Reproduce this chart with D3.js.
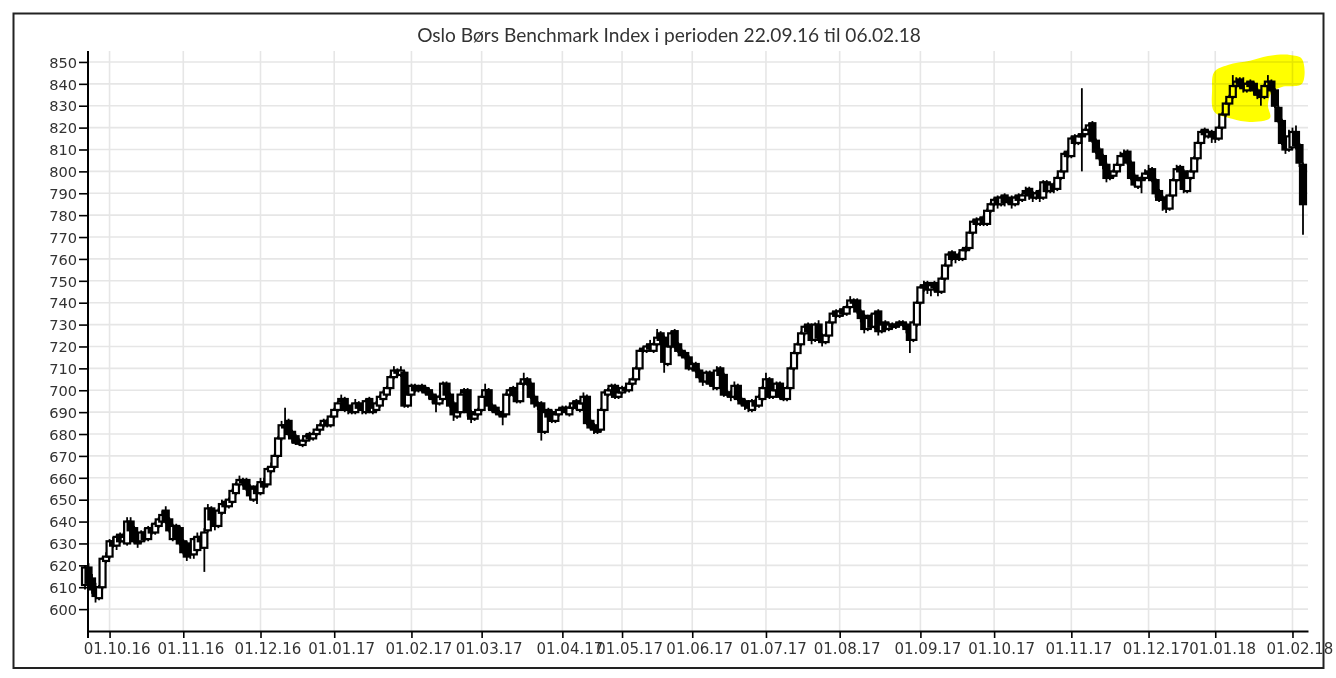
<!DOCTYPE html>
<html><head><meta charset="utf-8">
<script src="https://cdn.jsdelivr.net/npm/d3@7"></script>
<style>body{margin:0;background:#fff}svg{display:block}</style>
</head><body>
<svg id="chart" width="1336" height="678"></svg>
<script>
const titleText = "Oslo Børs Benchmark Index i perioden 22.09.16 til 06.02.18";
const startDate = "2016-09-22";
const endDate = "2018-02-06";
const holidays = ["2016-12-26","2017-04-13","2017-04-14","2017-04-17","2017-05-01","2017-05-17","2017-05-25","2017-06-05","2017-12-25","2017-12-26","2018-01-01"];
const yTicks = [600,610,620,630,640,650,660,670,680,690,700,710,720,730,740,750,760,770,780,790,800,810,820,830,840,850];
// highlighted region (hand-drawn marker): trading-day index and index value pairs
const highlightIdx = [321.7, 325.6, 331.9, 337.0, 343.3, 346.7, 346.7, 341.0, 338.2, 337.0, 337.6, 331.9, 326.8, 321.7, 321.1];
const highlightVal = [845.4, 848.6, 850.5, 852.7, 853.2, 851.4, 840.0, 838.6, 836.3, 830.3, 824.4, 822.6, 824.0, 827.2, 837.2];

const open = [
611,619,614,610,605,610,622,624,631,629, 634,631,630,640,637,633,631,635,632,637,
635,638,640,645,641,632,638,637,631,630, 628,625,627,633,628,636,646,641,638,644,
649,647,649,653,657,659,659,656,650,656, 653,658,657,663,665,670,678,683,686,681,
679,676,675,677,680,678,680,682,684,686, 684,688,691,696,696,691,693,690,694,693,
690,696,690,691,693,696,698,701,706,709, 707,708,693,698,702,700,702,701,700,698,
697,694,696,703,698,694,688,690,699,700, 690,687,689,691,697,700,693,692,690,690,
689,698,701,698,695,703,705,703,697,694, 694,681,691,690,686,689,691,692,689,692,
695,691,694,697,686,684,683,682,691,698, 700,702,697,699,701,700,703,705,710,718,
718,721,718,721,726,724,712,720,727,721, 718,717,715,710,712,709,706,704,708,703,
701,710,707,698,699,697,702,696,695,693, 691,695,693,696,701,705,697,700,703,697,
696,701,710,717,721,726,730,727,723,730, 725,722,725,731,736,734,737,735,738,741,
741,736,734,728,734,729,736,727,731,728, 730,729,730,731,730,729,723,730,740,747,
749,746,749,748,745,751,757,763,760,762, 760,764,765,772,778,776,779,776,782,785,
788,785,789,786,788,785,789,787,790,792, 790,788,791,788,795,791,794,792,797,800,
809,807,816,813,816,817,819,822,814,810, 807,803,797,798,800,803,807,809,804,798,
793,796,797,799,801,796,791,787,788,783, 789,796,802,800,791,797,800,806,813,819,
816,818,817,815,820,826,831,834,839,842, 840,837,841,840,837,835,834,839,841,837,
829,823,813,810,811,818,812,803];

const high = [
620,621,616,612,611,624,626,632,633,634, 635,635,642,642,638,634,636,637,638,639,
640,642,645,647,642,639,639,638,632,631, 629,633,635,635,637,648,647,642,646,650,
650,651,655,658,661,660,660,657,656,657, 660,660,665,667,671,679,686,692,687,682,
680,678,678,680,681,681,683,685,687,687, 689,692,695,698,697,693,694,696,695,694,
696,697,693,695,698,700,702,707,711,710, 711,709,699,703,703,702,703,702,701,699,
698,698,704,704,699,695,691,699,701,701, 691,690,692,698,703,701,694,693,691,691,
699,701,702,699,704,708,706,704,698,695, 695,691,692,691,690,692,693,693,693,695,
696,695,699,698,687,685,684,692,700,701, 703,703,700,702,702,704,706,711,719,720,
721,723,722,728,727,725,721,727,728,722, 719,718,716,713,713,710,707,709,709,704,
711,711,708,700,700,704,703,697,696,694, 696,696,698,702,708,706,701,704,704,698,
702,711,718,722,727,730,731,728,731,732, 726,726,732,736,737,737,738,739,743,742,
742,737,735,734,735,736,737,731,732,731, 731,731,732,732,731,730,732,741,748,750,
750,749,750,749,752,758,763,764,762,763, 765,766,773,778,779,779,780,783,786,788,
789,789,790,788,789,789,790,790,793,793, 791,791,792,796,796,795,795,798,801,809,
810,816,817,817,838,820,822,823,815,811, 808,804,799,801,804,809,810,810,805,799,
797,798,801,803,802,797,792,789,789,790, 797,803,803,801,798,801,807,814,819,820,
819,819,818,821,827,832,835,844,843,843, 843,841,842,841,838,836,840,844,842,838,
830,824,814,819,820,821,813,804];

const low = [
609,611,607,603,604,609,621,623,628,627, 630,630,629,635,630,628,630,631,631,634,
634,637,639,639,635,631,632,629,625,622, 623,623,626,629,617,635,640,636,637,643,
645,646,648,652,656,656,654,650,649,648, 652,655,656,662,664,669,677,681,679,676,
675,675,674,676,677,677,679,681,683,683, 683,687,690,694,690,689,689,689,691,689,
689,690,689,690,692,695,697,700,705,706, 706,692,692,697,699,699,699,698,696,694,
690,693,695,697,692,686,687,689,697,688, 685,686,688,690,696,691,690,689,688,684,
688,697,697,694,694,702,702,696,692,691, 677,680,687,685,685,688,690,689,688,691,
691,690,693,684,682,680,680,681,690,697, 699,696,696,698,699,699,702,704,709,717,
717,718,717,720,722,708,711,719,719,717, 715,714,709,709,708,705,702,703,702,700,
700,706,697,697,695,696,695,693,691,690, 690,691,692,695,700,696,696,699,696,695,
695,700,709,716,720,725,726,721,722,723, 720,721,724,730,733,733,734,734,737,738,
735,731,726,727,728,728,725,726,727,727, 728,728,729,729,726,717,722,729,739,745,
744,743,745,743,744,750,756,759,758,759, 759,763,764,771,775,775,775,775,781,784,
783,784,784,785,783,784,785,786,789,787, 786,787,786,787,790,790,790,791,796,799,
806,806,812,812,800,816,818,813,808,805, 801,795,796,797,799,802,806,803,796,793,
792,790,796,798,795,788,786,782,781,782, 788,795,799,790,790,796,799,805,812,815,
815,813,813,814,819,825,830,833,838,838, 836,836,837,835,833,830,833,838,836,829,
822,812,808,809,810,810,802,771];

const close = [
619,612,609,606,610,623,624,631,629,633, 631,633,640,636,631,630,635,632,637,635,
639,641,643,640,636,638,633,630,626,624, 625,632,633,631,635,646,641,638,645,648,
647,650,654,657,659,658,655,652,655,653, 658,656,664,665,670,678,684,684,680,678,
676,676,677,679,678,680,682,684,686,684, 688,691,694,695,691,692,690,694,692,691,
695,691,692,694,697,699,701,706,709,708, 709,693,698,702,700,701,701,699,698,696,
694,697,703,698,693,689,690,698,700,690, 687,689,691,697,700,693,691,690,689,688,
698,700,698,695,703,705,703,697,694,693, 681,690,688,686,689,691,692,690,692,694,
692,694,697,685,683,682,681,691,699,700, 702,697,699,701,700,703,705,710,718,719,
720,719,721,724,723,713,720,726,720,718, 716,715,710,712,709,706,704,708,703,702,
709,707,698,699,697,702,696,694,693,692, 695,693,697,701,705,697,700,703,697,696,
701,710,717,721,726,729,727,723,730,724, 722,725,731,735,734,736,735,738,741,740,
736,733,728,733,729,735,727,730,728,730, 729,730,731,730,728,723,731,740,747,748,
746,748,747,745,751,757,762,760,761,760, 764,765,772,777,776,778,776,782,785,787,
785,788,786,787,785,788,787,789,791,789, 788,790,788,795,791,794,792,797,800,808,
807,815,813,816,817,819,821,814,809,806, 803,797,798,800,803,807,808,804,797,794,
796,797,799,800,796,790,787,788,783,789, 796,801,800,792,797,800,806,813,818,817,
818,816,815,820,826,831,834,839,841,840, 838,840,839,837,835,834,839,841,837,830,
823,813,810,816,818,812,804,785];

// trading-day calendar (weekdays minus Oslo Børs holidays)
const parse = d3.utcParse("%Y-%m-%d");
const fmtISO = d3.utcFormat("%Y-%m-%d");
const hol = new Set(holidays);
const dates = d3.utcDays(parse(startDate), d3.utcDay.offset(parse(endDate), 1))
  .filter(d => d.getUTCDay() !== 0 && d.getUTCDay() !== 6 && !hol.has(fmtISO(d)));
const n = Math.min(dates.length, close.length);
const data = d3.range(n).map(i => ({i, date: dates[i], o: open[i], h: high[i], l: low[i], c: close[i]}));

const monthTicks = [];
data.forEach((d, i) => {
  if (i > 0 && d.date.getUTCMonth() !== data[i-1].date.getUTCMonth()) {
    monthTicks.push({i, label: d3.utcFormat("01.%m.%y")(d.date)});
  }
});

const svg = d3.select("#chart");
const x = d3.scaleLinear().domain([0, 347]).range([85, 1303]);
const y = d3.scaleLinear().domain([590, 855]).range([631, 51]);
const xLeft = 88, xRight = 1308;
const xAxisScale = x.copy().domain([x.invert(xLeft), x.invert(xRight)]).range([xLeft, xRight]);

// outer frame
svg.append("rect").attr("x", 13.5).attr("y", 13.5).attr("width", 1310).attr("height", 654.5)
  .attr("fill", "#fff").attr("stroke", "#222").attr("stroke-width", 2);

// title
const title = svg.append("text").attr("x", 669).attr("y", 42).attr("text-anchor", "middle")
  .attr("font-family", "Lato, 'Open Sans', sans-serif").attr("font-size", 16).attr("fill", "#333")
  .text(titleText);
const tl = title.node().getComputedTextLength();
title.attr("font-size", 16 * 504 / tl);

// grid
const grid = svg.append("g");
grid.selectAll("line.h").data(yTicks).join("line").attr("class", "h")
  .attr("x1", xLeft).attr("x2", xRight).attr("y1", d => y(d)).attr("y2", d => y(d))
  .attr("stroke", "#e6e6e6").attr("stroke-width", 1.6);
grid.selectAll("line.v").data(monthTicks).join("line").attr("class", "v")
  .attr("x1", d => x(d.i)).attr("x2", d => x(d.i)).attr("y1", 51).attr("y2", 631)
  .attr("stroke", "#e6e6e6").attr("stroke-width", 1.6);

// axes
const yAxis = d3.axisLeft(y).tickValues(yTicks).tickSize(9).tickSizeOuter(0).tickPadding(2).tickFormat(d3.format("d"));
const gy = svg.append("g").attr("transform", `translate(${xLeft},0)`).call(yAxis);
gy.select(".domain").attr("stroke", "#000").attr("stroke-width", 2).attr("d", "M0,51V638");
gy.selectAll(".tick line").attr("stroke", "#000").attr("stroke-width", 1.6);
gy.selectAll(".tick text").attr("font-family", "'DejaVu Sans', sans-serif").attr("font-size", 14.6)
  .attr("fill", "#333").attr("dy", "0.36em");

const xAxis = d3.axisBottom(xAxisScale).tickValues(monthTicks.map(d => d.i))
  .tickFormat((d, k) => monthTicks[k].label).tickSize(7).tickSizeOuter(0);
const gx = svg.append("g").attr("transform", "translate(0,631)").call(xAxis);
gx.select(".domain").attr("stroke", "#000").attr("stroke-width", 2);
gx.selectAll(".tick line").attr("stroke", "#000").attr("stroke-width", 1.6);
gx.selectAll(".tick text").attr("font-family", "'DejaVu Sans', sans-serif").attr("font-size", 15)
  .attr("fill", "#333").attr("x", 7).attr("y", 12);

// candles
const bodyW = 6;
const candles = svg.append("g").selectAll("g").data(data).join("g");
candles.append("line")
  .attr("x1", d => x(d.i)).attr("x2", d => x(d.i))
  .attr("y1", d => y(d.h)).attr("y2", d => y(d.l))
  .attr("stroke", "#000").attr("stroke-width", 1.8);
candles.append("rect")
  .attr("x", d => x(d.i) - bodyW / 2).attr("width", bodyW)
  .attr("y", d => y(Math.max(d.o, d.c)))
  .attr("height", d => Math.max(1, Math.abs(y(d.o) - y(d.c))))
  .attr("fill", d => d.c >= d.o ? "#fff" : "#000")
  .attr("stroke", "#000").attr("stroke-width", 2.2);

// yellow highlighter mark (multiply blend so the candles show through)
const hl = d3.line().curve(d3.curveCatmullRomClosed.alpha(0.5))
  .x(d => x(d[0])).y(d => y(d[1]));
svg.append("path")
  .datum(highlightIdx.map((v, k) => [v, highlightVal[k]]))
  .attr("d", hl).attr("fill", "#ffff00").style("mix-blend-mode", "multiply");
</script>
</body></html>
